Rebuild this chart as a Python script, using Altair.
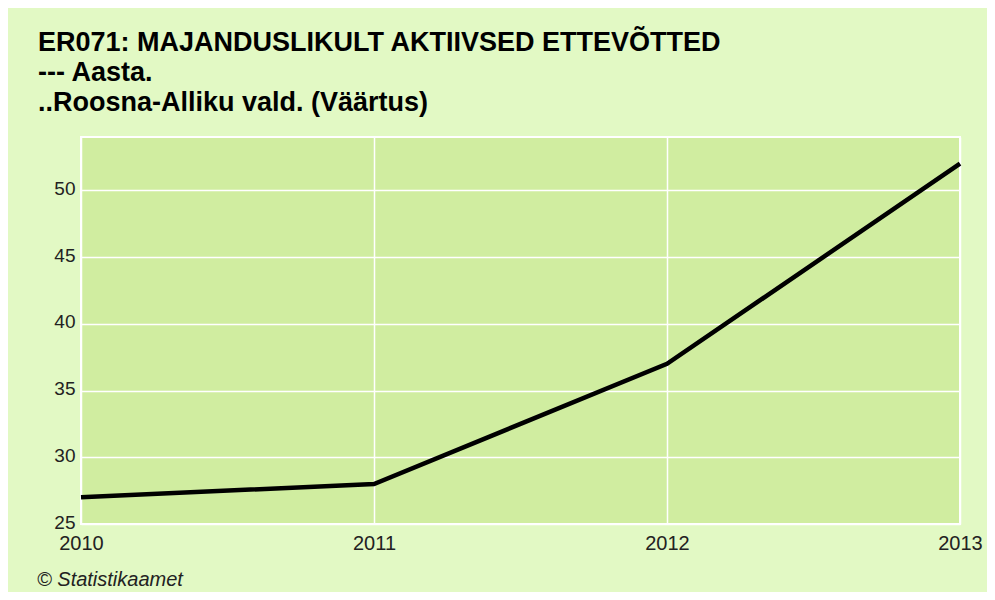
import altair as alt
import pandas as pd

years = [2010, 2011, 2012, 2013]
values = [27, 28, 37, 52]
title_lines = ["ER071: MAJANDUSLIKULT AKTIIVSED ETTEVÕTTED", "--- Aasta.", "..Roosna-Alliku vald. (Väärtus)"]
y_ticks = [25, 30, 35, 40, 45, 50]
source_note = "© Statistikaamet"

df = pd.DataFrame({"Aasta": years, "Väärtus": values})

W, H = 879, 387
FONT = "Liberation Sans"

line = alt.Chart(df).mark_line(color="black", strokeWidth=4.5).encode(
    x=alt.X("Aasta:Q", scale=alt.Scale(domain=[2010, 2013], nice=False, zero=False),
            axis=alt.Axis(values=years, format="d", title=None, grid=True, gridColor="white",
                          gridWidth=1.5, ticks=False, domain=False, labelFontSize=20,
                          labelColor="#222222", labelFont=FONT, labelPadding=9,
                          labelFlush=False)),
    y=alt.Y("Väärtus:Q", scale=alt.Scale(domain=[25, 54], nice=False, zero=False),
            axis=alt.Axis(values=y_ticks, title=None, grid=True, gridColor="white", gridWidth=1.5,
                          ticks=False, domain=False, labelFontSize=19, labelColor="#222222",
                          labelFont=FONT, labelPadding=6, labelBaseline="middle",
                          labelOffset=-2)),
)

note = alt.Chart(pd.DataFrame({"t": [source_note]})).mark_text(
    align="left", baseline="middle", fontStyle="italic", fontSize=20, font=FONT, color="#222222"
).encode(x=alt.value(-44), y=alt.value(H + 56), text="t:N")

chart = alt.layer(line, note).properties(
    width=W, height=H,
    title=alt.TitleParams(text=title_lines, anchor="start", frame="group", dx=-43, fontSize=27,
                          font=FONT, fontWeight="bold", color="black", lineHeight=30, offset=20),
    background="#e2f9c4",
    padding={"left": 73, "top": 129, "right": 27, "bottom": 68},
    autosize=alt.AutoSizeParams(type="none"),
).configure_view(fill="#d0eda0", stroke="white", strokeWidth=2)

chart.save("out.html", embed_options={"renderer": "svg", "actions": False})
